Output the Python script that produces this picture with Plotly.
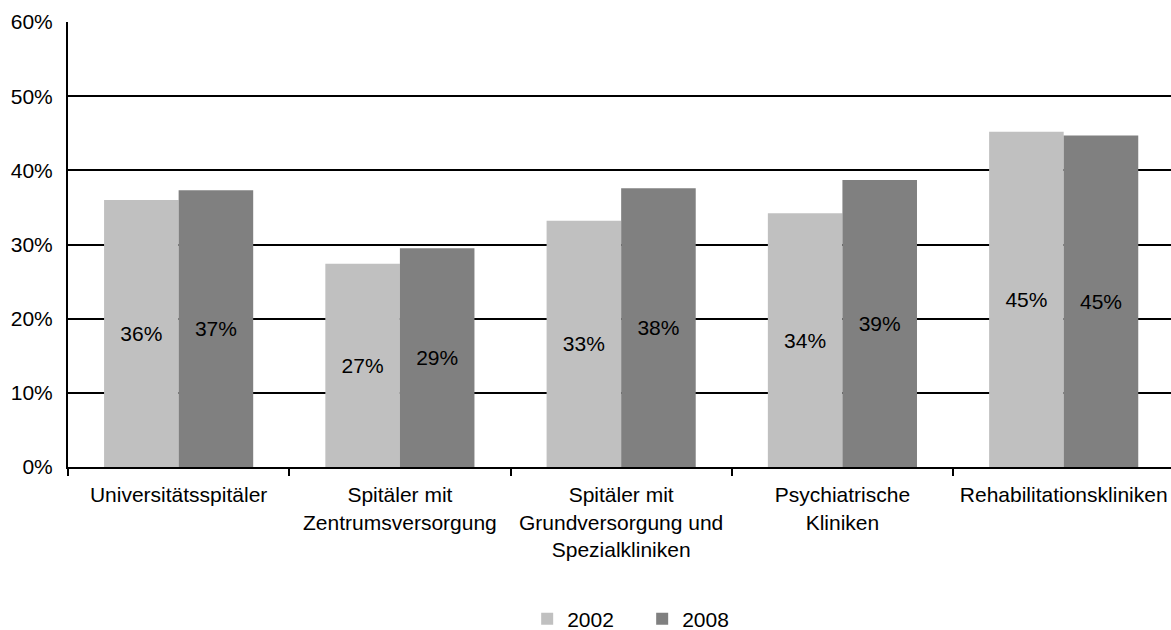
import plotly.graph_objects as go

categories = [
    "Universitätsspitäler",
    "Spitäler mit<br>Zentrumsversorgung",
    "Spitäler mit<br>Grundversorgung und<br>Spezialkliniken",
    "Psychiatrische<br>Kliniken",
    "Rehabilitationskliniken",
]
values_2002 = [0.36, 0.274, 0.332, 0.342, 0.452]
values_2008 = [0.373, 0.295, 0.376, 0.387, 0.447]
labels_2002 = ["36%", "27%", "33%", "34%", "45%"]
labels_2008 = ["37%", "29%", "38%", "39%", "45%"]

FONT = "Liberation Sans, Arial, sans-serif"
FS = 21

fig = go.Figure()
fig.add_trace(go.Bar(
    name="2002", x=categories, y=values_2002, text=labels_2002,
    marker=dict(color="#C0C0C0", line=dict(width=0)),
    textposition="inside", insidetextanchor="middle", textangle=0,
    textfont=dict(color="black", size=FS, family=FONT),
))
fig.add_trace(go.Bar(
    name="2008", x=categories, y=values_2008, text=labels_2008,
    marker=dict(color="#808080", line=dict(width=0)),
    textposition="inside", insidetextanchor="middle", textangle=0,
    textfont=dict(color="black", size=FS, family=FONT),
))

fig.update_layout(
    width=1171, height=630,
    margin=dict(l=68, r=0, t=22, b=163, autoexpand=False),
    paper_bgcolor="white", plot_bgcolor="white",
    font=dict(family=FONT, size=FS, color="black"),
    barmode="group", bargap=0.326, bargroupgap=0,
    hovermode=False,
    legend=dict(
        orientation="h", x=0.4163, xanchor="left", y=-0.342, yanchor="middle",
        font=dict(size=FS), entrywidth=70, traceorder="normal",
    ),
    xaxis=dict(
        type="category", range=[-0.5, 4.485], automargin=False,
        showline=True, linecolor="black", linewidth=2,
        ticks="outside", tickson="boundaries", ticklen=7, tickwidth=2, tickcolor="black",
        showgrid=False, tickfont=dict(size=FS), ticklabelstandoff=8,
    ),
    yaxis=dict(
        range=[0, 0.6], dtick=0.1, tickformat=".0%", automargin=False,
        showline=True, linecolor="black", linewidth=2,
        showgrid=True, gridcolor="black", gridwidth=1.5,
        zeroline=False, ticks="", ticklabelstandoff=9,
        tickfont=dict(size=FS),
    ),
)

fig.write_html(
    "out.html",
    config={"displayModeBar": False},
    post_script="document.body.style.margin='0';document.body.style.overflow='hidden';",
)
